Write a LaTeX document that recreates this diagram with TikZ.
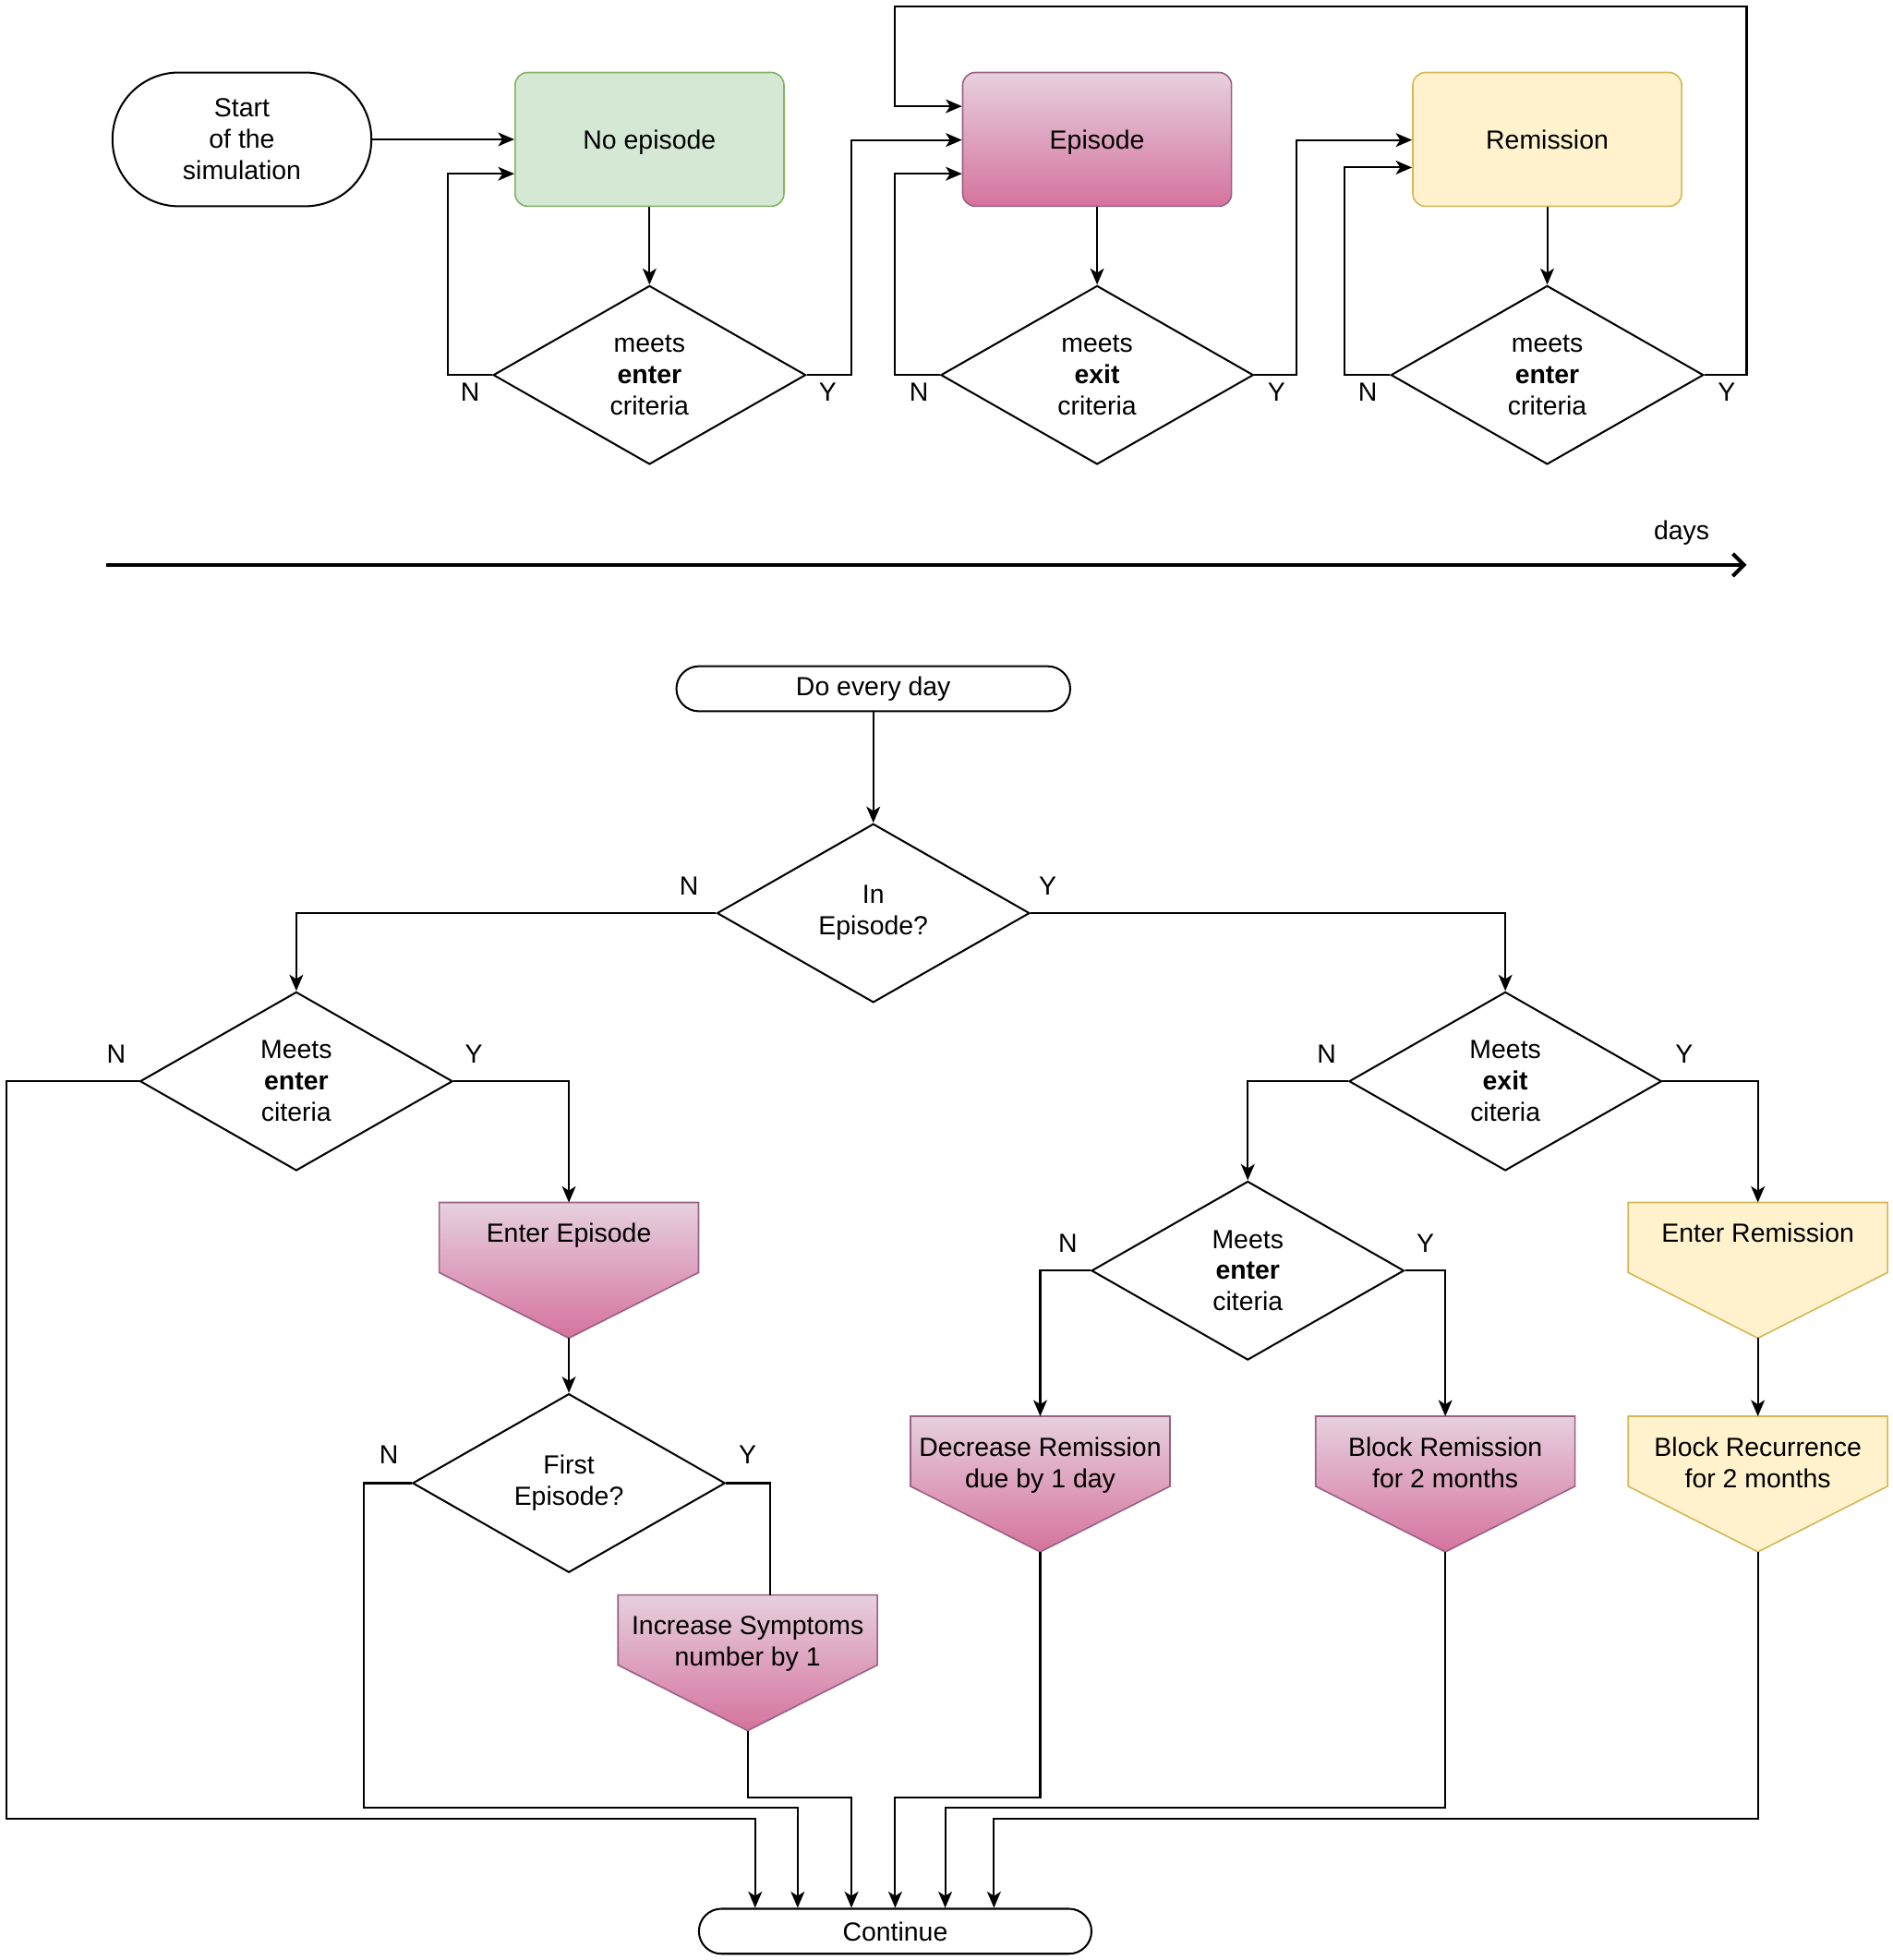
\documentclass[tikz,border=0pt]{standalone}
\usepackage{fontspec}
\setmainfont{Liberation Sans}
\usetikzlibrary{arrows.meta,shapes.geometric,calc}
\definecolor{gfill}{HTML}{D5E8D4}
\definecolor{gdraw}{HTML}{82B366}
\definecolor{ptop}{HTML}{E6D0DE}
\definecolor{pbot}{HTML}{D5739D}
\definecolor{pdraw}{HTML}{996185}
\definecolor{yfill}{HTML}{FFF2CC}
\definecolor{ydraw}{HTML}{D6B656}
\newcommand{\opnode}[5]{%
  \node[minimum width=206pt, minimum height=107pt, inner sep=0pt, anchor=north] (#1) at (#2,#3) {};
  \path[#4, line width=1.2pt] (#1.north west) -- (#1.north east) -- ($(#1.north east)+(0,56)$) -- (#1.south) -- ($(#1.north west)+(0,56)$) -- cycle;
  \node[txt, anchor=north] (#1t) at ($(#1.north)+(0,16)$) {#5};
}
\tikzset{
  arr/.style={-{Stealth[length=13pt,width=11pt,inset=3.5pt]}},
  dia/.style={draw, shape=diamond, minimum width=250pt, minimum height=143pt, inner sep=0pt, line width=1.5pt},
  txt/.style={align=center, inner sep=0pt},
  lbl/.style={inner sep=0pt},
  term/.style={draw, align=center, inner sep=0pt, line width=1.5pt},
  statebox/.style={align=center, inner sep=0pt, minimum width=215pt, minimum height=107pt, rounded corners=10pt, line width=1.2pt, text height=15pt, text depth=0pt},
  pinkfill/.style={top color=ptop, bottom color=pbot, draw=pdraw},
  yelfill/.style={fill=yfill, draw=ydraw},
}
\begin{document}
\begin{tikzpicture}[x=1pt, y=-1pt, font=\fontsize{21}{25}\selectfont, line width=1.5pt]
\useasboundingbox (0,0) rectangle (1514,1568);

% ---------- top section ----------
\node[term, minimum width=207pt, minimum height=107pt, rounded corners=53pt] (start) at (193.5,111.5) {Start\\of the\\simulation};
\node[statebox, fill=gfill, draw=gdraw] (noep) at (519.5,111.5) {No episode};
\node[statebox, pinkfill] (ep) at (877.5,111.5) {Episode};
\node[statebox, yelfill] (rem) at (1237.5,111.5) {Remission};

\node[dia] (d1) at (519.5,300) {};
\node[txt] (d1t) at (d1) {meets\\\textbf{enter}\\criteria};
\node[dia] (d2) at (877.5,300) {};
\node[txt] (d2t) at (d2) {meets\\\textbf{exit}\\criteria};
\node[dia] (d3) at (1237.5,300) {};
\node[txt] (d3t) at (d3) {meets\\\textbf{enter}\\criteria};

\draw[arr] (start.east) -- (noep.west);
\draw[arr] (noep.south) -- (d1.north);
\draw[arr] (d1.west) -- (358,300) -- (358,139) -- (noep.west |- 0,139);
\draw[arr] (d1.east) -- (681,300) -- (681,112) -- (ep.west |- 0,112);
\draw[arr] (ep.south) -- (d2.north);
\draw[arr] (d2.west) -- (716,300) -- (716,139) -- (ep.west |- 0,139);
\draw[arr] (d2.east) -- (1037,300) -- (1037,112) -- (rem.west |- 0,112);
\draw[arr] (rem.south) -- (d3.north);
\draw[arr] (d3.west) -- (1075,300) -- (1075,134) -- (rem.west |- 0,134);
\draw[arr] (d3.east) -- (1397,300) -- (1397,5) -- (716,5) -- (716,85) -- (ep.west |- 0,85);

\node[lbl] (l1) at (376,314) {N};
\node[lbl] (l2) at (662,314) {Y};
\node[lbl] (l3) at (735,314) {N};
\node[lbl] (l4) at (1021,314) {Y};
\node[lbl] (l5) at (1094,314) {N};
\node[lbl] (l6) at (1381,314) {Y};

% timeline
\coordinate (tl0) at (85,452);
\coordinate (tl1) at (1397,452);
\draw[line width=3pt, -{Straight Barb[length=9pt,width=18pt,line width=3pt]}] (tl0) -- (tl1);
\node[lbl] (days) at (1345,426) {days};

% ---------- bottom section ----------
\node[term, minimum width=315pt, minimum height=36pt, rounded corners=18pt] (every) at (698.5,551) {Do every day};
\node[dia] (d4) at (698.5,730.5) {};
\node[txt] (d4t) at (d4) {In\\Episode?};
\node[dia] (d5) at (237,865) {};
\node[txt] (d5t) at (d5) {Meets\\\textbf{enter}\\citeria};
\node[dia] (d6) at (1204,865) {};
\node[txt] (d6t) at (d6) {Meets\\\textbf{exit}\\citeria};
\node[dia] (d7) at (455,1186.5) {};
\node[txt] (d7t) at (d7) {First\\Episode?};
\node[dia] (d8) at (998,1016.5) {};
\node[txt] (d8t) at (d8) {Meets\\\textbf{enter}\\citeria};

\opnode{eep}{455}{962}{pinkfill}{Enter Episode}
\opnode{inc}{598}{1276}{pinkfill}{Increase Symptoms\\number by 1}
\opnode{dec}{832}{1133}{pinkfill}{Decrease Remission\\due by 1 day}
\opnode{blk}{1156}{1133}{pinkfill}{Block Remission\\for 2 months}
\opnode{erm}{1406}{962}{yelfill}{Enter Remission}
\opnode{brc}{1406}{1133}{yelfill}{Block Recurrence\\for 2 months}

\node[term, minimum width=314pt, minimum height=36pt, rounded corners=18pt] (cont) at (716,1545) {Continue};

\draw[arr] (every.south) -- (d4.north);
\draw[arr] (d4.west) -- (237,730.5) -- (d5.north);
\draw[arr] (d4.east) -- (1204,730.5) -- (d6.north);
\draw[arr] (d5.west) -- (5,865) -- (5,1455) -- (604,1455) -- (cont.north -| 604,0);
\draw[arr] (d5.east) -- (455,865) -- (eep.north);
\draw[arr] (eep.south) -- (d7.north);
\draw[arr] (d7.west) -- (291,1186.5) -- (291,1446) -- (638,1446) -- (cont.north -| 638,0);
\draw (d7.east) -- (616,1186.5) -- (inc.north -| 616,0);
\draw[arr] (inc.south) -- (598,1438) -- (681,1438) -- (cont.north -| 681,0);
\draw[arr] (d6.west) -- (998,865) -- (d8.north);
\draw[arr] (d6.east) -- (1406,865) -- (erm.north);
\draw[arr] (d8.west) -- (832,1016.5) -- (dec.north);
\draw[arr] (d8.east) -- (1156,1016.5) -- (blk.north);
\draw[arr] (erm.south) -- (brc.north);
\draw[arr] (dec.south) -- (832,1438) -- (716,1438) -- (cont.north -| 716,0);
\draw[arr] (blk.south) -- (1156,1446) -- (756,1446) -- (cont.north -| 756,0);
\draw[arr] (brc.south) -- (1406,1455) -- (795,1455) -- (cont.north -| 795,0);

\node[lbl] (b1) at (551,709) {N};
\node[lbl] (b2) at (838,709) {Y};
\node[lbl] (b3) at (93,843) {N};
\node[lbl] (b4) at (379,843) {Y};
\node[lbl] (b5) at (1061,843) {N};
\node[lbl] (b6) at (1347,843) {Y};
\node[lbl] (b7) at (854,995) {N};
\node[lbl] (b8) at (1140,995) {Y};
\node[lbl] (b9) at (311,1164) {N};
\node[lbl] (b10) at (598,1164) {Y};
\end{tikzpicture}
\end{document}
